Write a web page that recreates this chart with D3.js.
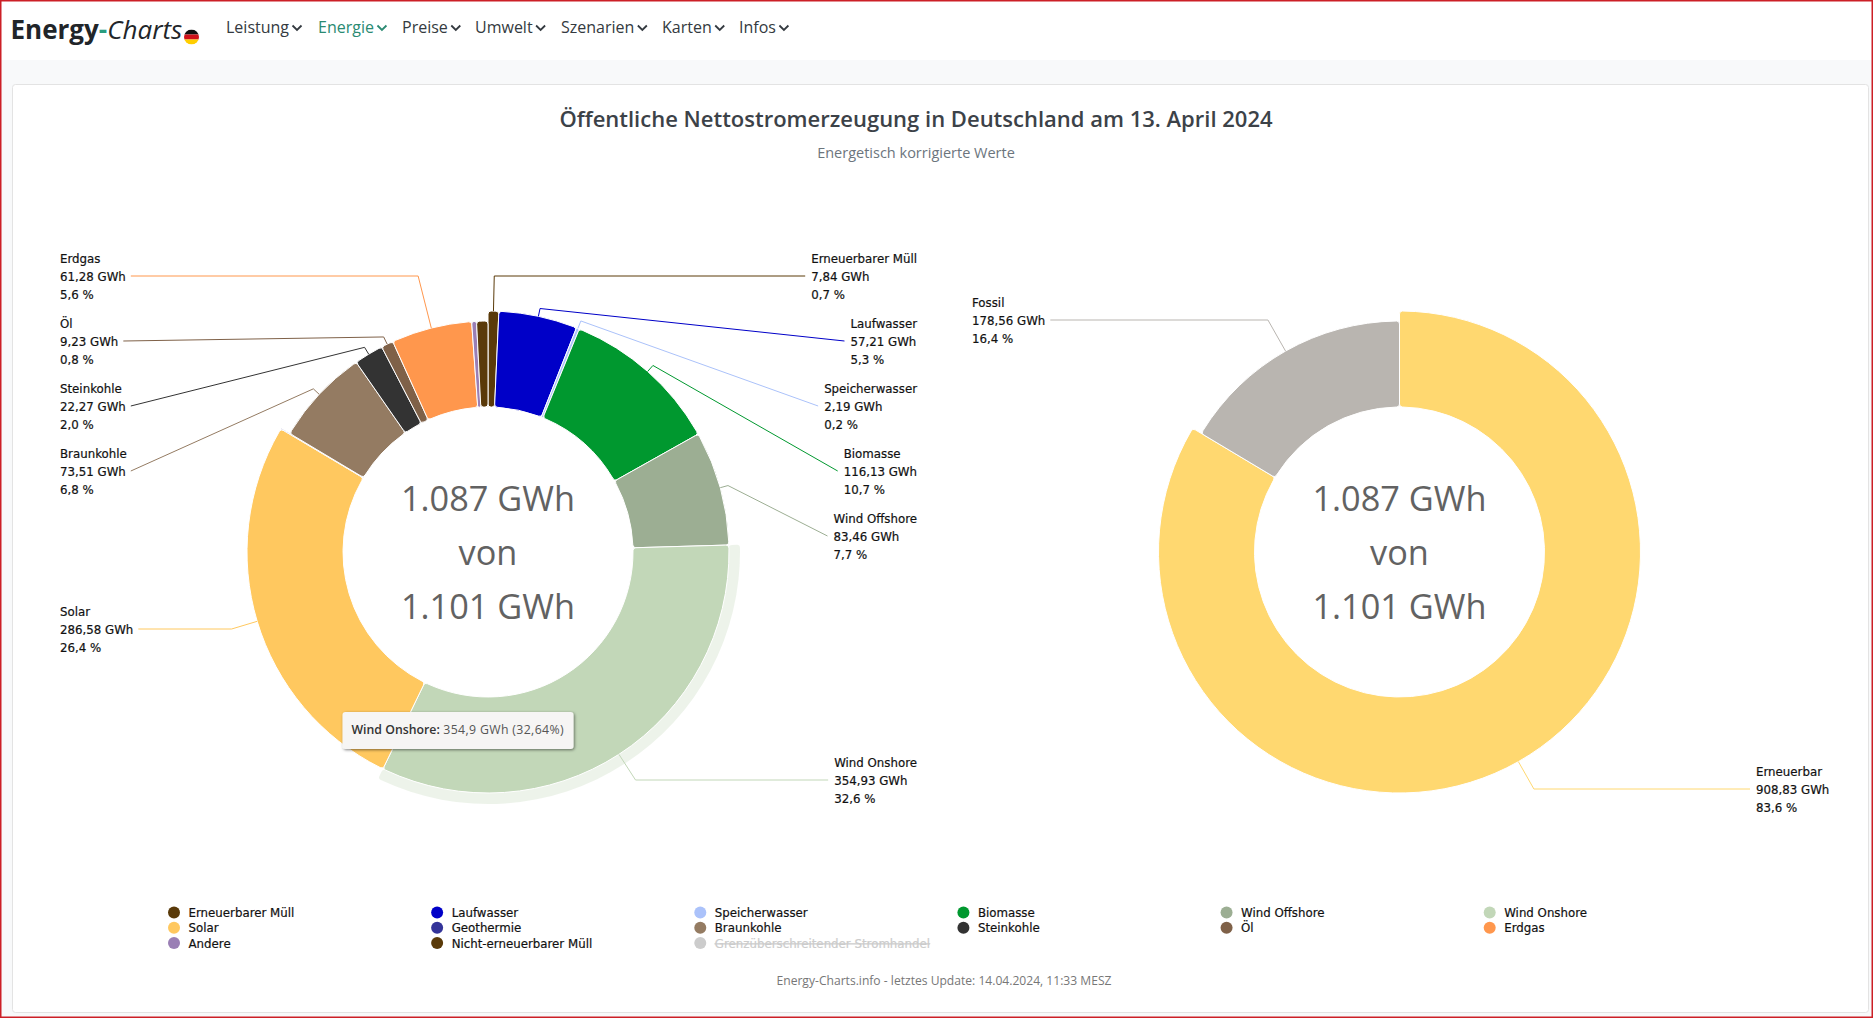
<!DOCTYPE html>
<html lang="de">
<head>
<meta charset="utf-8">
<title>Energy-Charts</title>
<script src="https://cdn.jsdelivr.net/npm/d3@7"></script>
<style>
  html, body { margin: 0; padding: 0; background: #fff; overflow: hidden; }
  svg { display: block; }
  .nav { font-family: "Open Sans", sans-serif; font-size: 16px; fill: #343a40; }
  .label, .legend { font-family: "DejaVu Sans", sans-serif; font-size: 11.8px; fill: #111; stroke: #111; stroke-width: 0.2px; }
</style>
</head>
<body>
<div id="chart"></div>
<script>
// Slices of the left donut, clockwise from the top
var sources = ["Erneuerbarer Müll", "Laufwasser", "Speicherwasser", "Biomasse", "Wind Offshore", "Wind Onshore",
  "Solar", "Geothermie", "Braunkohle", "Steinkohle", "Öl", "Erdgas", "Andere", "Nicht-erneuerbarer Müll"];
var sourceValues = [7.84, 57.21, 2.19, 116.13, 83.46, 354.93, 286.58, 0.49, 73.51, 22.27, 9.23, 61.28, 3.67, 8.6];
var sourceColors = ["#5a3a09", "#0000c8", "#abc2fa", "#00982f", "#9cae93", "#c2d7b8", "#ffc85f", "#333399",
  "#947b62", "#333333", "#7f6148", "#ff974d", "#9a7fb5", "#5a3a09"];
var fossilSources = ["Braunkohle", "Steinkohle", "Öl", "Erdgas", "Andere", "Nicht-erneuerbarer Müll"];

// Right donut
var groups = ["Erneuerbar", "Fossil"];
var groupValues = [908.83, 178.56];
var groupColors = ["#ffd870", "#b9b5b0"];

// Legend, row by row
var legendNames = ["Erneuerbarer Müll", "Laufwasser", "Speicherwasser", "Biomasse", "Wind Offshore", "Wind Onshore",
  "Solar", "Geothermie", "Braunkohle", "Steinkohle", "Öl", "Erdgas",
  "Andere", "Nicht-erneuerbarer Müll", "Grenzüberschreitender Stromhandel"];

var navItems = ["Leistung", "Energie", "Preise", "Umwelt", "Szenarien", "Karten", "Infos"];
var navX = [226, 318, 402, 475, 561, 662, 739];
var centerLines = ["1.087 GWh", "von", "1.101 GWh"];

var width = 1873, height = 1018;
var innerR = 145, outerR = 241, fossilR = 231;
var cy = 552;

// y of the value line of each label
var labelY = {
  "Erneuerbarer Müll": 276, "Laufwasser": 341, "Speicherwasser": 406, "Biomasse": 471,
  "Wind Offshore": 536, "Wind Onshore": 780, "Solar": 629, "Braunkohle": 471, "Steinkohle": 406,
  "Öl": 341, "Erdgas": 276, "Erneuerbar": 789, "Fossil": 320
};

var svg = d3.select("#chart").append("svg")
  .attr("width", width)
  .attr("height", height);

// Page background, card and screenshot frame
svg.append("rect").attr("width", width).attr("height", height).attr("fill", "#f8f9fa");
svg.append("rect").attr("width", width).attr("height", 60).attr("fill", "#fff");
svg.append("rect")
  .attr("x", 12.5).attr("y", 84.5)
  .attr("width", 1856).attr("height", 928)
  .attr("rx", 3)
  .attr("fill", "#fff")
  .attr("stroke", "#e3e3e3");
svg.append("rect")
  .attr("x", 0.75).attr("y", 0.75)
  .attr("width", width - 1.5).attr("height", height - 1.5)
  .attr("fill", "none")
  .attr("stroke", "#cc1f26")
  .attr("stroke-width", 1.5);

// Logo
var logo = svg.append("text")
  .attr("x", 10.5)
  .attr("y", 39)
  .style("font-family", "'Open Sans', sans-serif")
  .style("font-size", "26px");
logo.append("tspan").attr("font-weight", 700).attr("fill", "#212529").text("Energy");
logo.append("tspan").attr("font-weight", 700).attr("fill", "#2a9d7f").text("-");
logo.append("tspan").attr("font-style", "italic").attr("font-weight", 400).attr("fill", "#212529").text("Charts");

svg.append("clipPath").attr("id", "flagClip").append("circle").attr("cx", 191.5).attr("cy", 37).attr("r", 7.5);
svg.append("g").attr("clip-path", "url(#flagClip)")
  .selectAll("rect")
  .data(["#111", "#d0121b", "#ffce00"])
  .join("rect")
  .attr("x", 183)
  .attr("y", (d, i) => 29.5 + i * 5)
  .attr("width", 17)
  .attr("height", 5)
  .attr("fill", d => d);

// Navigation
navItems.forEach(function(item, i) {
  var color = item === "Energie" ? "#2a8a72" : "#343a40";
  var t = svg.append("text")
    .attr("class", "nav")
    .attr("x", navX[i])
    .attr("y", 33)
    .style("fill", color)
    .text(item);
  var end = navX[i] + t.node().getComputedTextLength();
  svg.append("path")
    .attr("d", `M${end + 3.5},25.5 l4.5,4.5 l4.5,-4.5`)
    .attr("fill", "none")
    .attr("stroke", color)
    .attr("stroke-width", 1.8);
});

// Title block
svg.append("text")
  .attr("x", 916).attr("y", 127)
  .attr("text-anchor", "middle")
  .attr("fill", "#3c4248")
  .style("font-family", "'Open Sans', sans-serif")
  .style("font-size", "22px")
  .style("font-weight", 600)
  .text("Öffentliche Nettostromerzeugung in Deutschland am 13. April 2024");

svg.append("text")
  .attr("x", 916).attr("y", 158)
  .attr("text-anchor", "middle")
  .attr("fill", "#6c757d")
  .style("font-family", "'Open Sans', sans-serif")
  .style("font-size", "14.5px")
  .text("Energetisch korrigierte Werte");

svg.append("text")
  .attr("x", 944).attr("y", 985)
  .attr("text-anchor", "middle")
  .attr("fill", "#777")
  .style("font-family", "'Open Sans', sans-serif")
  .style("font-size", "12.1px")
  .text("Energy-Charts.info - letztes Update: 14.04.2024, 11:33 MESZ");

var de = d3.formatLocale({ decimal: ",", thousands: ".", grouping: [3], currency: ["", " €"] });
var fmtValue = de.format(".2f");
var fmtPercent = de.format(".1f");

function drawDonut(names, values, colors, cx, leftX, rightEdge, highlight) {
  var total = d3.sum(values);
  var pie = d3.pie().sort(null).value((d, i) => values[names.indexOf(d)]);
  var slices = pie(names);
  var radius = d => fossilSources.concat(["Fossil"]).includes(d.data) ? fossilR : outerR;
  var arc = d3.arc()
    .innerRadius(innerR)
    .outerRadius(radius)
    .cornerRadius(3);
  var g = svg.append("g").attr("transform", `translate(${cx}, ${cy})`);

  // Hover halo round the highlighted slice
  if (highlight) {
    g.selectAll(".halo")
      .data(slices.filter(d => d.data === highlight))
      .join("path")
      .attr("class", "halo")
      .attr("d", d3.arc().innerRadius(outerR).outerRadius(outerR + 11).cornerRadius(3))
      .attr("fill", d => colors[names.indexOf(d.data)])
      .attr("opacity", 0.3);
  }

  g.selectAll(".slice")
    .data(slices)
    .join("path")
    .attr("class", "slice")
    .attr("d", arc)
    .attr("fill", d => colors[names.indexOf(d.data)])
    .attr("stroke", "#fff")
    .attr("stroke-width", 1);

  g.selectAll(".center")
    .data(centerLines)
    .join("text")
    .attr("class", "center")
    .attr("x", 0)
    .attr("y", (d, i) => -41 + i * 54)
    .attr("text-anchor", "middle")
    .attr("fill", "#626262")
    .style("font-family", "'Open Sans', sans-serif")
    .style("font-size", "34.3px")
    .text(d => d);

  // Labels and leader lines
  slices.filter(d => labelY[d.data] !== undefined).forEach(function(d) {
    var name = d.data;
    var value = values[names.indexOf(name)];
    var color = colors[names.indexOf(name)];
    var mid = (d.startAngle + d.endAngle) / 2;
    var r = radius(d);
    var sx = Math.sin(mid), sy = -Math.cos(mid);
    var startX = sx * r, startY = sy * r;
    var rowY = labelY[name] - cy;
    var isRight = sx > 0;

    var lines = [name, fmtValue(value) + " GWh", fmtPercent(value / total * 100) + " %"];
    var label = svg.append("g").attr("class", "label");
    var texts = label.selectAll("text")
      .data(lines)
      .join("text")
      .attr("y", (l, i) => labelY[name] + 4.5 + (i - 1) * 18)
      .text(l => l);
    var widths = [];
    texts.each(function() { widths.push(this.getComputedTextLength()); });
    var labelX = isRight ? (name === "Erneuerbar" ? 1756 : rightEdge - d3.max(widths)) : leftX;
    texts.attr("x", labelX);
    var lineEnd = isRight ? labelX - 6 : labelX + widths[1] + 5;

    // Radial up to the label row when that row lies further out, else a short stub
    var farther = Math.abs(rowY) > Math.abs(startY) + 5 && rowY * startY > 0;
    var bend = farther ? rowY / sy : r + 8;
    var elbowX = sx * bend, elbowY = sy * bend;
    g.append("path")
      .attr("d", d3.line()([[startX, startY], [elbowX, elbowY], [lineEnd - cx, rowY]]))
      .attr("fill", "none")
      .attr("stroke", color)
      .attr("stroke-width", 1);
  });
}

drawDonut(sources, sourceValues, sourceColors, 488, 60, 917, "Wind Onshore");
drawDonut(groups, groupValues, groupColors, 1399.5, 972, 1828, null);

// Legend
var legendColors = sources.reduce(function(m, s, i) { m[s] = sourceColors[i]; return m; }, {});
var legendX = d3.scaleLinear().domain([0, 5]).range([174, 1489.7]);
var legendY = d3.scaleLinear().domain([0, 2]).range([912.5, 943]);
var legend = svg.append("g");
var items = legend.selectAll("g")
  .data(legendNames)
  .join("g")
  .attr("transform", (d, i) => `translate(${legendX(i % 6)}, ${legendY(Math.floor(i / 6))})`);
items.append("circle")
  .attr("r", 6)
  .attr("fill", d => legendColors[d] || "#cccccc");
items.append("text")
  .attr("class", "legend")
  .attr("x", 14.5)
  .attr("y", 4.5)
  .style("fill", d => legendColors[d] ? "#111" : "#ccc")
  .style("stroke", d => legendColors[d] ? "#111" : "#ccc")
  .style("text-decoration", d => legendColors[d] ? "none" : "line-through")
  .text(d => d);

// Tooltip
var tipShadow = svg.append("filter").attr("id", "tipShadow")
  .attr("x", "-10%").attr("y", "-30%").attr("width", "120%").attr("height", "170%");
tipShadow.append("feDropShadow")
  .attr("dx", 1).attr("dy", 1).attr("stdDeviation", 1.5)
  .attr("flood-color", "#000").attr("flood-opacity", 0.5);
svg.append("rect")
  .attr("x", 342.5).attr("y", 712)
  .attr("width", 231).attr("height", 37)
  .attr("rx", 3)
  .attr("fill", "#f6f5f4")
  .attr("filter", "url(#tipShadow)");
var tip = svg.append("text")
  .attr("x", 351.5).attr("y", 734)
  .style("font-family", "'Open Sans', sans-serif")
  .style("font-size", "12.3px");
tip.append("tspan").attr("font-weight", 600).attr("fill", "#333").text("Wind Onshore:");
tip.append("tspan").attr("fill", "#555").style("letter-spacing", "0.35px").text(" 354,9 GWh (32,64%)");
</script>
</body>
</html>
